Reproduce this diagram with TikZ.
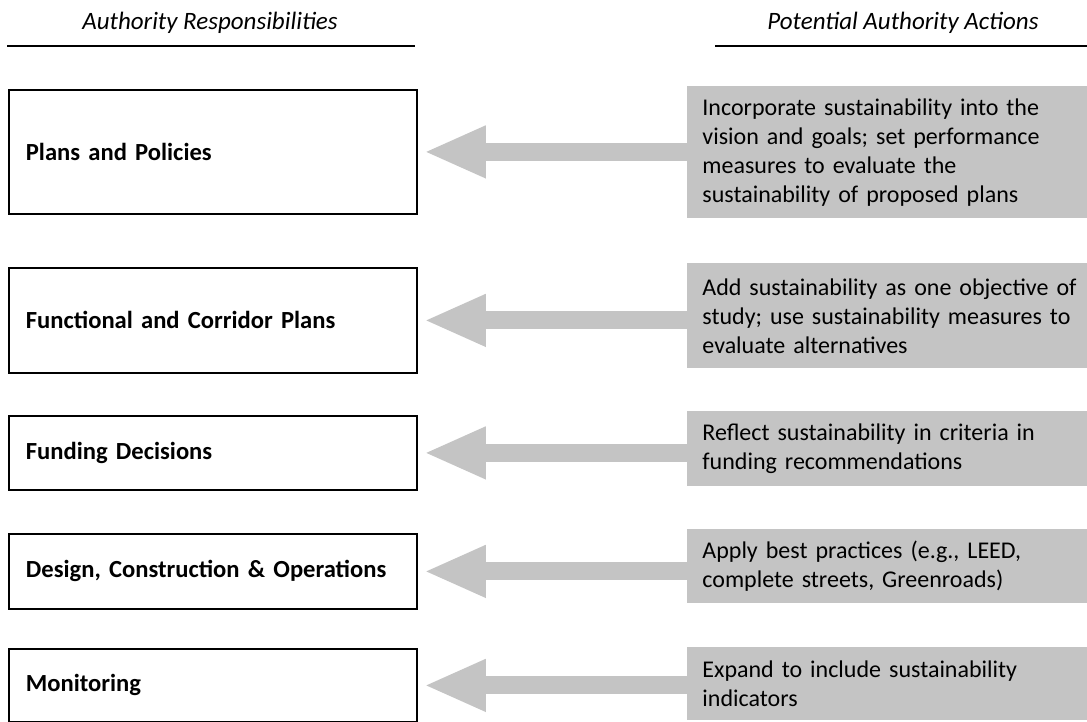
\documentclass[tikz,border=0pt]{standalone}
\usepackage{fontspec}
\setmainfont{Carlito}
\usetikzlibrary{arrows.meta}
\definecolor{halftone}{gray}{0.77}
\begin{document}
\begin{tikzpicture}[x=0.5pt, y=-0.5pt,
    respbox/.style={draw, line width=0.9pt, anchor=north west, inner xsep=8.5pt, text width=187pt, align=left, font=\fontsize{12.3}{14}\selectfont\bfseries},
    actionbox/.style={fill=halftone, anchor=north west, inner xsep=7.5pt, inner ysep=2pt, text width=190pt, align=left, font=\fontsize{12}{14.5}\selectfont},
    pointer/.style={draw=halftone, line width=9pt, -{Triangle[length=31pt,width=24pt]}, shorten >=3pt},
    scale=1]
    \useasboundingbox (0,0) rectangle (1087,722);

    \node[font=\fontsize{12.5}{14}\selectfont\itshape] (hleft) at (210,23) {Authority Responsibilities};
    \node[font=\fontsize{12.5}{14}\selectfont\itshape] (hright) at (903,23) {Potential Authority Actions};
    \draw[line width=0.9pt] (7,46) -- (415,46);
    \draw[line width=0.9pt] (715,46) -- (1087,46);

    \node[respbox, minimum height=62pt] (b1) at (8,89) {Plans and Policies};
    \node[respbox, minimum height=52.5pt] (b2) at (8,267) {Functional and Corridor Plans};
    \node[respbox, minimum height=37pt] (b3) at (8,415) {Funding Decisions};
    \node[respbox, minimum height=37.5pt] (b4) at (8,533) {Design, Construction \& Operations};
    \node[respbox, minimum height=36.5pt] (b5) at (8,648) {Monitoring};

    \node[actionbox, minimum height=66pt] (a1) at (687,86) {Incorporate sustainability into the\\vision and goals; set performance\\measures to evaluate the\\sustainability of proposed plans};
    \node[actionbox, minimum height=52.5pt] (a2) at (687,263) {Add sustainability as one objective of\\study; use sustainability measures to\\evaluate alternatives};
    \node[actionbox, minimum height=37.5pt] (a3) at (687,411) {Reflect sustainability in criteria in\\funding recommendations};
    \node[actionbox, minimum height=37pt] (a4) at (687,529) {Apply best practices (e.g., LEED,\\complete streets, Greenroads)};
    \node[actionbox, minimum height=36.5pt] (a5) at (687,647) {Expand to include sustainability\\indicators};

    \draw[pointer] (a1.west |- b1.east) -- (b1.east);
    \draw[pointer] (a2.west |- b2.east) -- (b2.east);
    \draw[pointer] (a3.west |- b3.east) -- (b3.east);
    \draw[pointer] (a4.west |- b4.east) -- (b4.east);
    \draw[pointer] (a5.west |- b5.east) -- (b5.east);
  \end{tikzpicture}
\end{document}
